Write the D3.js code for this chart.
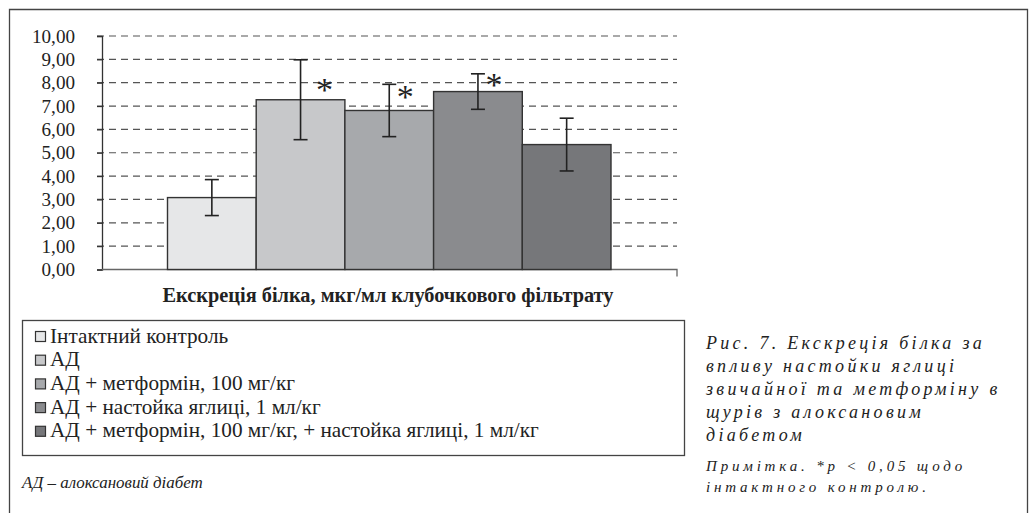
<!DOCTYPE html>
<html>
<head>
<meta charset="utf-8">
<script src="https://cdn.jsdelivr.net/npm/d3@7"></script>
<style>
  html, body { margin: 0; padding: 0; background: #fff; overflow: hidden; }
  #frame { position: relative; width: 1030px; height: 513px; overflow: hidden; }
  #fig7 { position: absolute; left: 0; top: 0; display: block;
          transform: scale(0.5); transform-origin: 0 0; }
  svg text { font-family: "Liberation Serif", Tinos, "Times New Roman" !important; fill: #222; }
  .axis-title { font-weight: bold; }
  .footnote, .caption, .note { font-style: italic; }
</style>
</head>
<body>
<div id="frame">
  <!-- drawn on a double-resolution canvas and shown at half size -->
  <svg id="fig7" width="2060" height="1026" viewBox="0 0 1030 513"></svg>
</div>
<script>
// Protein excretion by group (mean ± error)
const groups = [
  "Інтактний контроль",
  "АД",
  "АД + метформін, 100 мг/кг",
  "АД + настойка яглиці, 1 мл/кг",
  "АД + метформін, 100 мг/кг, + настойка яглиці, 1 мл/кг"
];
const means = [3.08, 7.27, 6.81, 7.62, 5.35];
const errors = [0.77, 1.71, 1.12, 0.76, 1.13];
const significant = [false, true, true, true, false];
const fills = ["#e6e7e8", "#c7c8ca", "#a7a9ac", "#8a8b8e", "#76777a"];
const yTicks = [0, 1, 2, 3, 4, 5, 6, 7, 8, 9, 10];
const axisTitle = "Екскреція білка, мкг/мл клубочкового фільтрату";
const footnote = "АД – алоксановий діабет";
const captionLines = [
  "Рис. 7. Екскреція білка за",
  "впливу настойки яглиці",
  "звичайної та метформіну в",
  "щурів з алоксановим",
  "діабетом"
];
const noteLines = [
  "Примітка. *p < 0,05 щодо",
  "інтактного контролю."
];

const svg = d3.select("#fig7");

// scale a text group's font size so a reference element spans the given width
function fitSize(sel, refNode, width, base) {
  sel.style("font-size", base + "px");
  const w = refNode.getComputedTextLength();
  const size = Math.min(base * 1.25, Math.max(base * 0.8, base * width / w));
  sel.style("font-size", size.toFixed(2) + "px");
}

// outer frame (top, left, right edges)
svg.append("path")
  .attr("d", "M9.5,513 L9.5,9.5 L1027.5,9.5 L1027.5,513")
  .attr("fill", "none").attr("stroke", "#444").attr("stroke-width", 1.3);

const plot = { left: 102, right: 677, top: 36, bottom: 269.5 };

const y = d3.scaleLinear().domain([0, 10]).range([plot.bottom, plot.top]);
const x = d3.scaleBand().domain(d3.range(groups.length))
  .range([167.5, 611]).paddingInner(0).paddingOuter(0);

// dashed gridlines
svg.append("g").selectAll("line")
  .data(yTicks.filter(d => d > 0))
  .join("line")
  .attr("x1", plot.left - 5).attr("x2", plot.right)
  .attr("y1", d => y(d)).attr("y2", d => y(d))
  .attr("stroke", "#555").attr("stroke-width", 1.2)
  .attr("stroke-dasharray", "7,5");

// y axis
const yAxis = d3.axisLeft(y).tickValues(yTicks)
  .tickFormat(d => d3.format(".2f")(d).replace(".", ","))
  .tickSize(5).tickPadding(22);
const gy = svg.append("g").attr("transform", `translate(${plot.left},0)`).call(yAxis);
gy.attr("font-family", null).attr("font-size", null);
gy.select(".domain").attr("stroke", "#333").attr("stroke-width", 1.3);
gy.selectAll(".tick line").attr("stroke", "#333").attr("stroke-width", 1.2);
const tickText = gy.selectAll(".tick text").attr("fill", null);
fitSize(tickText, tickText.nodes()[tickText.size() - 1], 43, 17);

// x axis baseline with end tick
svg.append("path")
  .attr("d", `M${plot.left},${plot.bottom} H${plot.right} V${plot.bottom + 7}`)
  .attr("fill", "none").attr("stroke", "#666").attr("stroke-width", 1.3);

// bars
svg.append("g").selectAll("rect")
  .data(means)
  .join("rect")
  .attr("x", (d, i) => x(i))
  .attr("y", d => y(d))
  .attr("width", x.bandwidth())
  .attr("height", d => y(0) - y(d))
  .attr("fill", (d, i) => fills[i])
  .attr("stroke", "#333").attr("stroke-width", 1.4);

// error bars
const eb = svg.append("g").attr("stroke", "#222").attr("stroke-width", 1.6);
means.forEach((m, i) => {
  const cx = x(i) + x.bandwidth() / 2;
  const hi = y(m + errors[i]), lo = y(m - errors[i]);
  eb.append("line").attr("x1", cx).attr("x2", cx).attr("y1", hi).attr("y2", lo);
  eb.append("line").attr("x1", cx - 7).attr("x2", cx + 7).attr("y1", hi).attr("y2", hi);
  eb.append("line").attr("x1", cx - 7).attr("x2", cx + 7).attr("y1", lo).attr("y2", lo);
});

// significance marks
const starShift = [[0, 0], [24, 22], [16, 5], [16, 3], [0, 0]];
svg.append("g").selectAll("text")
  .data(means.map((m, i) => ({ m, i })).filter(d => significant[d.i]))
  .join("text")
  .attr("x", d => x(d.i) + x.bandwidth() / 2 + starShift[d.i][0])
  .attr("y", d => y(d.m + errors[d.i]) + starShift[d.i][1] + 19)
  .attr("text-anchor", "middle")
  .style("font-size", "34px")
  .text("*");

// axis title
const title = svg.append("text")
  .attr("class", "axis-title")
  .attr("x", 388).attr("y", 302)
  .attr("text-anchor", "middle")
  .text(axisTitle);
fitSize(title, title.node(), 451, 17);

// legend
svg.append("rect")
  .attr("x", 22.5).attr("y", 320.5).attr("width", 662).attr("height", 135)
  .attr("fill", "none").attr("stroke", "#444").attr("stroke-width", 1.3);
const lg = svg.append("g").selectAll("g")
  .data(groups)
  .join("g")
  .attr("transform", (d, i) => `translate(0,${337 + i * 23.7})`);
lg.append("rect")
  .attr("x", 35.5).attr("y", -5.5).attr("width", 10).attr("height", 10)
  .attr("fill", (d, i) => fills[i]).attr("stroke", "#333").attr("stroke-width", 1.2);
const lgText = lg.append("text")
  .attr("x", 50).attr("y", 5.5)
  .text(d => d);
fitSize(lgText, lgText.nodes()[groups.length - 1], 490, 17);

// abbreviation footnote
const fn = svg.append("text")
  .attr("class", "footnote")
  .attr("x", 22).attr("y", 488)
  .text(footnote);
fitSize(fn, fn.node(), 181, 18);

// figure caption: wide italic, spaced so the first line spans the caption column
function spacedLines(lines, cls, x0, y0, step, size, width) {
  const t = svg.append("g").selectAll("text").data(lines).join("text")
    .attr("class", cls)
    .attr("x", x0).attr("y", (d, i) => y0 + i * step)
    .style("font-size", size + "px")
    .text(d => d);
  const w = t.node().getComputedTextLength();
  const ls = Math.max(0, (width - w) / lines[0].length);
  t.style("letter-spacing", ls + "px");
  return t;
}
spacedLines(captionLines, "caption", 706, 349, 23, 18, 279);
spacedLines(noteLines, "note", 706, 471, 20.5, 15, 260);
</script>
</body>
</html>
